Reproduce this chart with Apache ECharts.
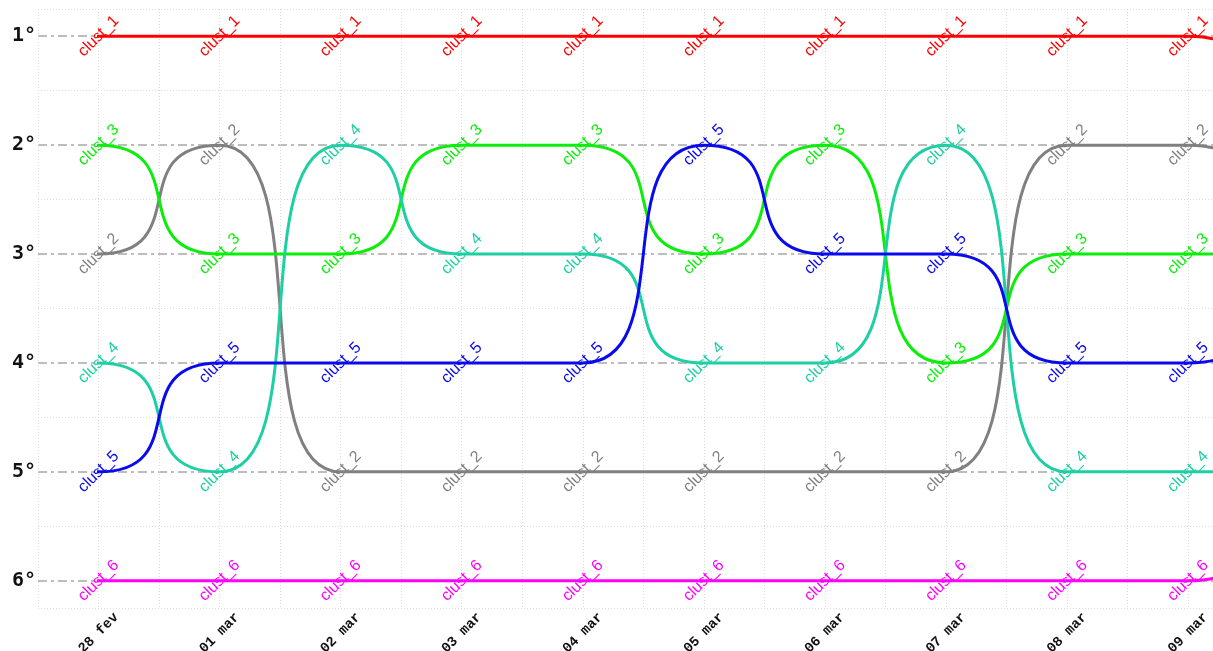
<!DOCTYPE html>
<html><head><meta charset="utf-8">
<script src="https://cdn.jsdelivr.net/npm/echarts@6/dist/echarts.min.js"></script>
<style>html,body{margin:0;padding:0;background:#fff;overflow:hidden}#c{width:1370px;height:651px}</style>
</head><body><div id="c"></div>
<script>
// categories (the last one lies just outside the visible window; its values are estimated from the curvature at the right edge)
const categories = ['28 fev','01 mar','02 mar','03 mar','04 mar','05 mar','06 mar','07 mar','08 mar','09 mar','10 mar'];
const clust_1 = [1,1,1,1,1,1,1,1,1,1,2];
const clust_2 = [3,2,5,5,5,5,5,5,2,2,3];
const clust_3 = [2,3,3,2,2,3,2,4,3,3,3];
const clust_4 = [4,5,2,3,3,4,4,2,5,5,5];
const clust_5 = [5,4,4,4,4,2,3,3,4,4,3];
const clust_6 = [6,6,6,6,6,6,6,6,6,6,5];
const seriesNames = ['clust_1','clust_2','clust_3','clust_4','clust_5','clust_6'];
const seriesValues = [clust_1, clust_2, clust_3, clust_4, clust_5, clust_6];
const seriesColors = ['#ff0000','#808080','#0aee0a','#1fcfa4','#0a0aee','#ff00ff'];
const yTickLabels = {1:'1°',2:'2°',3:'3°',4:'4°',5:'5°',6:'6°'};

const yMin = 0.75, yMax = 6.25, yStep = 0.25;
const tickVals = [];
for (let v = yMin; v <= yMax + 1e-9; v += yStep) tickVals.push(v);
const T = 'rgba(0,0,0,0)';
const majorColors = tickVals.map(v => Number.isInteger(v) ? '#bdbdbd' : T);
const minorColors = tickVals.map((v, i) => ((v % 1) === 0.5 || i === 0 || i === tickVals.length - 1) ? '#dcdcdc' : T);

// layout
const band = 121.06, left0 = 38, top0 = 9, bottom0 = 43;
// series axis: a leading (clipped) copy of the first column lets the first curve leave flat
const seriesCats = [''].concat(categories);

const chart = echarts.init(document.getElementById('c'), null, {renderer: 'canvas'});
chart.setOption({
  animation: false,
  backgroundColor: '#ffffff',
  grid: [
    {left: left0, top: top0, bottom: bottom0, width: band * categories.length, outerBoundsMode: 'none', containLabel: false},
    {left: left0 + band / 2, top: top0, bottom: bottom0, width: band * (categories.length - 1), outerBoundsMode: 'none', containLabel: false}
  ],
  xAxis: [{
    gridIndex: 0, type: 'category', data: categories, boundaryGap: true,
    axisLine: {show: false}, axisTick: {show: false}, splitLine: {show: false},
    axisLabel: {interval: 0, rotate: 45, align: 'center', verticalAlign: 'middle', margin: 25,
      fontFamily: 'Liberation Mono', fontWeight: 'bold', fontSize: 14, color: '#111'}
  }, {
    gridIndex: 0, type: 'value', min: -0.5, max: categories.length - 0.5, interval: 0.5, position: 'bottom',
    axisLine: {show: false}, axisTick: {show: false}, axisLabel: {show: false},
    splitLine: {show: true, lineStyle: {color: '#dcdcdc', width: 1, type: [1, 2]}}
  }, {
    gridIndex: 1, type: 'category', data: seriesCats, boundaryGap: false, min: 1, max: seriesCats.length - 1,
    show: false
  }],
  yAxis: [{
    gridIndex: 0, type: 'value', inverse: true, min: yMin, max: yMax, interval: yStep,
    axisLine: {show: false}, axisTick: {show: false},
    axisLabel: {margin: 2, fontFamily: 'DejaVu Sans Mono', fontWeight: 'bold', fontSize: 20, color: '#111',
      formatter: v => yTickLabels[v] || ''},
    splitLine: {show: true, lineStyle: {color: majorColors, width: 2, type: [9, 4, 3, 4]}}
  }, {
    gridIndex: 0, type: 'value', inverse: true, min: yMin, max: yMax, interval: yStep, position: 'left',
    axisLine: {show: false}, axisTick: {show: false}, axisLabel: {show: false},
    splitLine: {show: true, lineStyle: {color: minorColors, width: 1, type: [1, 2]}}
  }, {
    gridIndex: 1, type: 'value', inverse: true, min: yMin, max: yMax, show: false
  }],
  series: seriesNames.map((name, k) => ({
    name: name, type: 'line', xAxisIndex: 2, yAxisIndex: 2,
    data: [seriesValues[k][0]].concat(seriesValues[k]),
    smooth: 0.8, smoothMonotone: 'x', clip: true,
    symbol: 'circle', symbolSize: 2, showSymbol: true,
    itemStyle: {color: seriesColors[k]},
    lineStyle: {color: seriesColors[k], width: 3},
    label: {show: true, position: 'inside', rotate: 45, formatter: name,
      color: seriesColors[k], fontFamily: 'Liberation Sans', fontSize: 16},
    emphasis: {disabled: true}
  }))
});
</script></body></html>
